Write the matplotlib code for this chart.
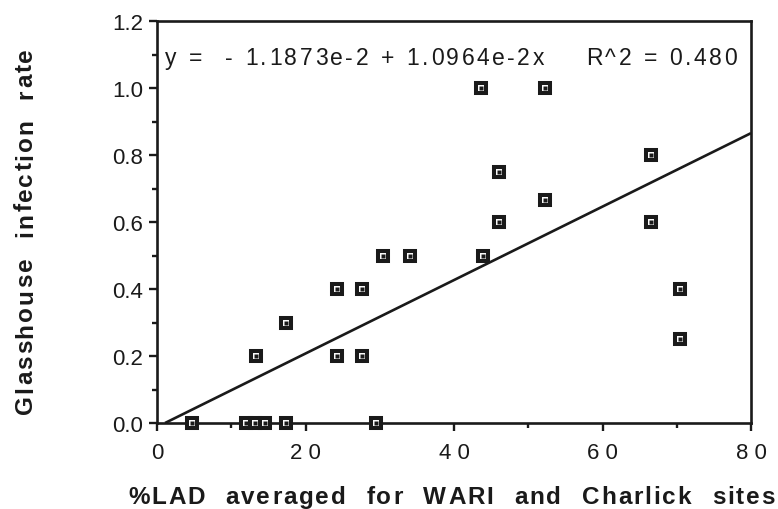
import matplotlib
matplotlib.use("Agg")
import matplotlib.pyplot as plt
from matplotlib.font_manager import FontProperties
from matplotlib.ticker import MultipleLocator, FixedLocator, FixedFormatter
import numpy as np

# ---------------- data ----------------
lad_pct = [4.7, 12.0, 13.2, 14.5, 17.4, 29.5,
           13.3, 17.4, 24.3, 27.6, 24.3, 27.6,
           30.4, 34.1, 43.9, 43.7, 52.3, 46.0,
           46.0, 52.3, 66.5, 66.5, 70.5, 70.5]
infection_rate = [0.0, 0.0, 0.0, 0.0, 0.0, 0.0,
                  0.2, 0.3, 0.4, 0.4, 0.2, 0.2,
                  0.5, 0.5, 0.5, 1.0, 1.0, 0.75,
                  0.6, 0.667, 0.8, 0.6, 0.4, 0.25]
fit_intercept = -1.1873e-2
fit_slope = 1.0964e-2
r_squared = 0.480

x_ticks = [0, 20, 40, 60, 80]
x_tick_labels = ["0", "2 0", "4 0", "6 0", "8 0"]
y_ticks = [0.0, 0.2, 0.4, 0.6, 0.8, 1.0, 1.2]
y_tick_labels = ["0.0", "0.2", "0.4", "0.6", "0.8", "1.0", "1.2"]
x_label = "%LAD averaged for WARI and Charlick sites"
y_label = "Glasshouse infection rate"
equation = "y =  - 1.1873e-2 + 1.0964e-2x    R^2 = 0.480"

# ---------------- figure ----------------
W, H = 778, 510
INK = "#1a1a1a"
fig = plt.figure(figsize=(W / 100, H / 100), dpi=100)
ax = fig.add_axes([157 / W, 86 / H, 594 / W, 402 / H])

ax.set_xlim(0, 80)
ax.set_ylim(0, 1.2)

# regression line
x_start = -fit_intercept / fit_slope
xs = np.array([x_start, 80.0])
ax.plot(xs, fit_intercept + fit_slope * xs, color=INK, lw=1.9, zorder=2,
        solid_capstyle="butt")

# markers: square with white centre and small dot
ax.plot(lad_pct, infection_rate, "s", ms=7.8, mfc="white", mec=INK, mew=2.9,
        clip_on=False, zorder=3)
ax.plot(lad_pct, infection_rate, "s", ms=2.2, mfc=INK, mec="none",
        clip_on=False, zorder=4)

for sp in ax.spines.values():
    sp.set_linewidth(1.9)
    sp.set_color(INK)

tick_fp = FontProperties(family="Liberation Sans", size=16)
ax.xaxis.set_major_locator(FixedLocator(x_ticks))
ax.xaxis.set_major_formatter(FixedFormatter(x_tick_labels))
ax.xaxis.set_minor_locator(MultipleLocator(10))
ax.yaxis.set_major_locator(FixedLocator(y_ticks))
ax.yaxis.set_major_formatter(FixedFormatter(y_tick_labels))
ax.yaxis.set_minor_locator(MultipleLocator(0.1))
ax.tick_params(which="major", direction="out", length=6, width=1.7, color=INK,
               labelcolor=INK)
ax.tick_params(which="minor", direction="out", length=3.5, width=1.7, color=INK)
ax.tick_params(axis="x", which="major", pad=8)
ax.tick_params(axis="y", which="major", pad=4)
for lab in ax.get_xticklabels() + ax.get_yticklabels():
    lab.set_fontproperties(tick_fp)

# ------------- tracked (letter-spaced) text helper -------------
renderer = fig.canvas.get_renderer()


def adv(ch, fp):
    w = lambda s: renderer.get_text_width_height_descent(s, fp, ismath=False)[0]
    return w("x" + ch + "x") - w("xx")


def tracked(s, start, end, base, fp, vertical=False, word_extra=0.0):
    advs = [adv(c, fp) for c in s]
    nspace = s.count(" ")
    natural = sum(advs) + nspace * word_extra
    t = (end - start - natural) / (len(s) - 1)
    pos = start
    for c, a in zip(s, advs):
        if c != " ":
            if vertical:
                fig.text(base / W, pos / H, c, fontproperties=fp, color=INK,
                         rotation=90, rotation_mode="anchor",
                         ha="left", va="baseline")
            else:
                fig.text(pos / W, base / H, c, fontproperties=fp, color=INK,
                         ha="left", va="baseline")
        pos += a + t + (word_extra if c == " " else 0)


label_fp = FontProperties(family="Liberation Sans", weight="bold", size=17.5)
eq_fp = FontProperties(family="Liberation Sans", size=16.5)

# x label (display px, origin bottom-left)
tracked(x_label, 128, 775, 6, label_fp, word_extra=10)
# y label: baseline at x=32, running from y=96 to y=462
tracked(y_label, 96, 462, 32, label_fp, vertical=True, word_extra=10)
# equation
tracked(equation, 165, 737, 445, eq_fp, word_extra=1)

fig.savefig("out.png", dpi=100)
